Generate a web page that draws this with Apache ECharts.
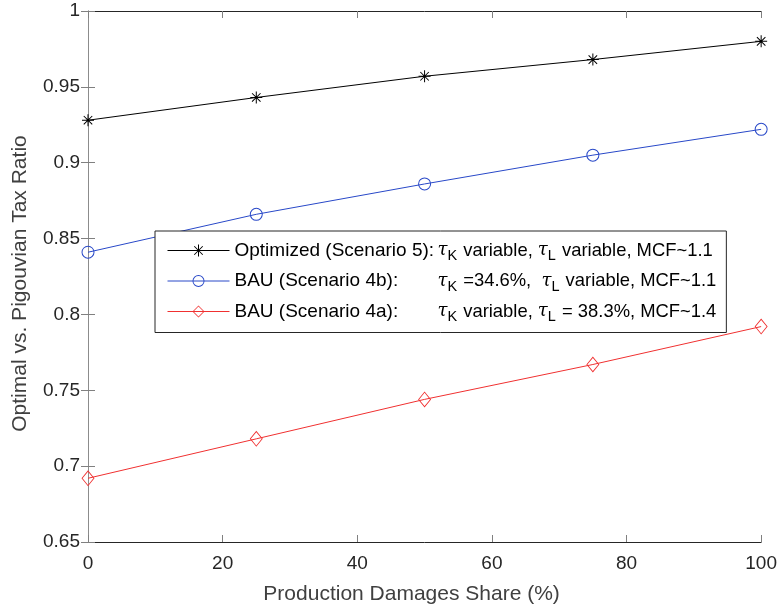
<!DOCTYPE html>
<html>
<head>
<meta charset="utf-8">
<script src="https://cdn.jsdelivr.net/npm/echarts@6/dist/echarts.min.js"></script>
<style>html,body{margin:0;padding:0;background:#fff}#c{width:780px;height:610px}</style>
</head>
<body>
<div id="c"></div>
<script>
const xValues = [0, 25, 50, 75, 100];
const optimized = [0.928, 0.943, 0.957, 0.968, 0.980];
const bau4b = [0.841, 0.866, 0.886, 0.905, 0.922];
const bau4a = [0.692, 0.718, 0.744, 0.767, 0.792];
const seriesNames = ['Optimized', 'BAU4b', 'BAU4a'];
const seriesColors = ['#000000', '#2848c8', '#f03030'];
const legendText = {
  'Optimized': '{a|Optimized (Scenario 5):}{t|τ}{s|K}{b| variable, }{t|τ}{s|L}{b| variable, MCF~1.1}',
  'BAU4b': '{a|BAU (Scenario 4b):}{t|τ}{s|K}{b| =34.6%,  }{t|τ}{s|L}{b| variable, MCF~1.1}',
  'BAU4a': '{a|BAU (Scenario 4a):}{t|τ}{s|K}{b| variable, }{t|τ}{s|L}{b| = 38.3%, MCF~1.4}'
};
const FONT = '"Liberation Sans", Arial, Helvetica, sans-serif';
const chart = echarts.init(document.getElementById('c'));
const pairs = a => xValues.map((x, i) => [x, a[i]]);
// outline symbols drawn as filled thin shapes (nonzero fill)
const asterisk = 'path://M-0.5,-6L0.5,-6L0.5,6L-0.5,6Z' +
  'M-6,-0.5L6,-0.5L6,0.5L-6,0.5Z' +
  'M-3.89,-4.6L4.6,3.89L3.89,4.6L-4.6,-3.89Z' +
  'M-4.6,3.89L3.89,-4.6L4.6,-3.89L-3.89,4.6Z';
const circle = 'path://M0,-6.5A6.5,6.5,0,1,1,0,6.5A6.5,6.5,0,1,1,0,-6.5Z' +
  'M0,-5.5A5.5,5.5,0,1,0,0,5.5A5.5,5.5,0,1,0,0,-5.5Z';
const diamond = 'path://M0,-8L6.5,0L0,8L-6.5,0Z' +
  'M0,-6.6L-5.4,0L0,6.6L5.4,0Z';
const symbols = [asterisk, circle, diamond];
const sizes = [12, 13, [13, 16]];
const tc = '#262626';
chart.setOption({
  animation: false,
  grid: {left: 88, right: 17, top: 11, bottom: 67},
  xAxis: [{
    type: 'value', min: 0, max: 100, interval: 20,
    name: 'Production Damages Share (%)', nameLocation: 'middle', nameGap: 42,
    nameTextStyle: {fontFamily: FONT, fontSize: 21, color: '#404040', padding: [0, 26, 0, 0]},
    axisLine: {lineStyle: {color: tc, width: 1}},
    axisTick: {inside: true, length: 7, lineStyle: {color: '#808080'}},
    axisLabel: {fontFamily: FONT, fontSize: 19, color: tc, margin: 12},
    splitLine: {show: false}
  }, {
    type: 'value', min: 0, max: 100, interval: 20, position: 'top',
    axisLine: {lineStyle: {color: tc, width: 1}},
    axisTick: {inside: true, length: 7, lineStyle: {color: '#808080'}},
    axisLabel: {show: false}, splitLine: {show: false}
  }],
  yAxis: [{
    type: 'value', min: 0.65, max: 1, interval: 0.05,
    name: 'Optimal vs. Pigouvian Tax Ratio', nameLocation: 'middle', nameGap: 57,
    nameTextStyle: {fontFamily: FONT, fontSize: 21, color: '#404040', padding: [0, 14, 0, 0]},
    axisLine: {show: true, lineStyle: {color: '#8c8c8c', width: 1}},
    axisTick: {show: true, inside: true, length: 7, lineStyle: {color: '#808080'}},
    axisLabel: {fontFamily: FONT, fontSize: 19, color: tc, margin: 8,
      formatter: v => String(+v.toFixed(2))},
    splitLine: {show: false}
  }, {
    type: 'value', min: 0.65, max: 1, interval: 0.05, position: 'right',
    axisLine: {show: true, lineStyle: {color: '#8c8c8c', width: 1}},
    axisTick: {show: true, inside: true, length: 7, lineStyle: {color: '#808080'}},
    axisLabel: {show: false}, splitLine: {show: false}
  }],
  legend: {
    orient: 'vertical', left: 155, top: 231,
    data: seriesNames,
    backgroundColor: '#fff', borderColor: tc, borderWidth: 1,
    padding: [10, 10, 8, 12], itemGap: 8, itemWidth: 62, itemHeight: 15,
    lineStyle: {width: 1},
    formatter: n => legendText[n],
    textStyle: {
      fontFamily: FONT, fontSize: 19, color: '#000',
      rich: {
        a: {fontFamily: FONT, fontSize: 19, color: '#000', width: 203, lineHeight: 26, verticalAlign: 'middle'},
        b: {fontFamily: FONT, fontSize: 18.4, color: '#000', lineHeight: 26, verticalAlign: 'middle'},
        t: {fontFamily: '"DejaVu Serif", "Liberation Serif", serif', fontStyle: 'italic', fontSize: 18, color: '#000', lineHeight: 26, verticalAlign: 'middle'},
        s: {fontFamily: FONT, fontSize: 14.5, color: '#000', lineHeight: 26, verticalAlign: 'bottom', padding: [0, 1, 0, 0]}
      }
    }
  },
  series: [optimized, bau4b, bau4a].map((arr, i) => ({
    name: seriesNames[i], type: 'line', data: pairs(arr),
    color: seriesColors[i],
    symbol: symbols[i], symbolSize: sizes[i],
    lineStyle: {color: seriesColors[i], width: 1},
    itemStyle: {color: seriesColors[i], borderWidth: 0}
  }))
});
</script>
</body>
</html>
